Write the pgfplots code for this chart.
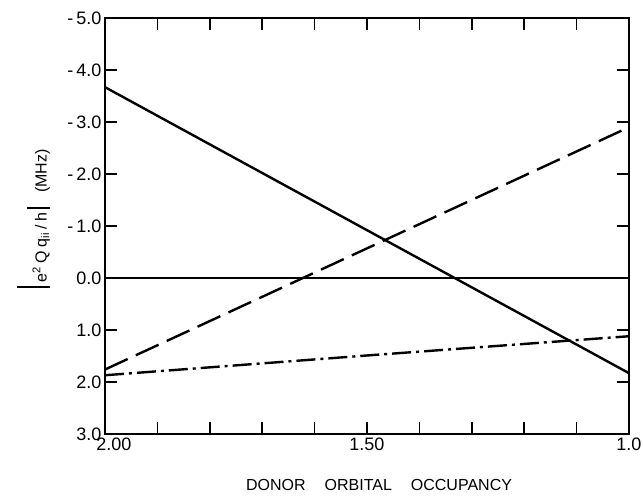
\documentclass[border=0pt]{standalone}
\usepackage{fontspec}
\setmainfont{Liberation Sans}
\usepackage{pgfplots}
\pgfplotsset{compat=1.18}
\newcommand{\gp}{\hspace{3.5pt}}
\begin{document}
\begin{tikzpicture}[x=1pt,y=1pt]
\useasboundingbox (-105,-63) rectangle (538,434);
\begin{axis}[
  at={(0,0)}, anchor=south west,
  scale only axis, width=524pt, height=416pt,
  xmin=1, xmax=2, x dir=reverse,
  ymin=-5, ymax=3, y dir=reverse,
  xtick={2,1.9,1.8,1.7,1.6,1.5,1.4,1.3,1.2,1.1,1.0},
  xticklabels={\hspace*{18pt}2.00,,,,,1.50,,,,,1.0},
  ytick={-5,-4,-3,-2,-1,0,1,2,3},
  yticklabels={-\hspace{3pt}5.0,-\hspace{3pt}4.0,-\hspace{3pt}3.0,-\hspace{3pt}2.0,-\hspace{3pt}1.0,0.0,1.0,2.0,3.0},
  tick align=inside, major tick length=12pt,
  tick style={line width=1.6pt, black},
  axis line style={line width=2.6pt},
  ticklabel style={font=\fontsize{18}{20}\selectfont},
  xlabel={DONOR\hspace{19pt}ORBITAL\hspace{19pt}OCCUPANCY},
  every axis x label/.style={at={(axis description cs:0.523,0)}, anchor=center, yshift=-51pt, font=\fontsize{16}{18}\selectfont},
  ylabel={\rule[-3pt]{2pt}{33pt}\gp e\textsuperscript{2}\gp Q\gp q\textsubscript{ii}\gp /\gp h\gp\rule[-3pt]{2pt}{23pt}\hspace{14pt}(MHz)},
  every axis y label/.style={at={(axis description cs:-0.137,0.518)}, rotate=90, anchor=center, font=\fontsize{16}{18}\selectfont},
]
\addplot[black, line width=2.4pt] coordinates {(2,-3.67) (1,1.83)};
\addplot[black, line width=2.4pt, dash pattern=on 25pt off 9pt] coordinates {(2,1.76) (1,-2.9)};
\addplot[black, line width=2.4pt, dash pattern=on 19pt off 5pt on 3pt off 5pt] coordinates {(2,1.87) (1.5,1.49) (1,1.12)};
\addplot[black, line width=2.6pt] coordinates {(2,0) (1,0)};
\end{axis}
\end{tikzpicture}
\end{document}
